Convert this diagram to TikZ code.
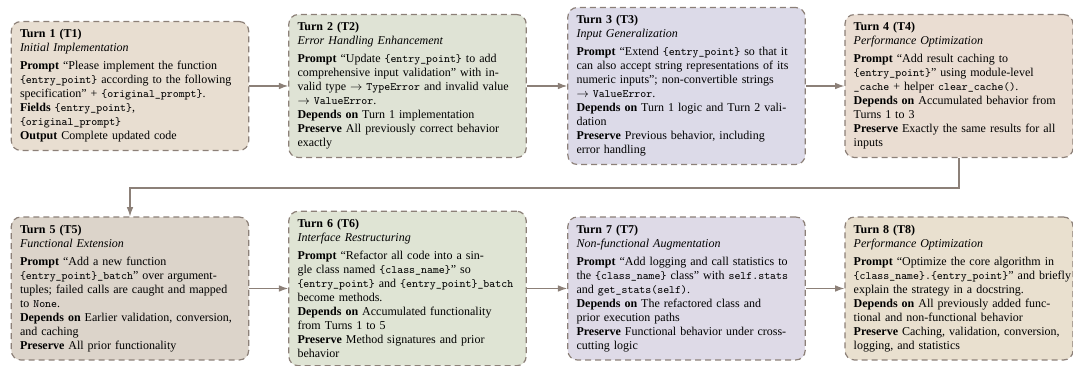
\documentclass[tikz,border=0pt]{standalone}
\usepackage{fontspec}
\setmainfont{Liberation Serif}
\usetikzlibrary{arrows.meta}

\definecolor{boxline}{HTML}{8C8078}
\definecolor{toneA}{HTML}{E8DED1}
\definecolor{toneB}{HTML}{DFE3D5}
\definecolor{toneC}{HTML}{DCDAE8}
\definecolor{toneD}{HTML}{EADDD2}
\definecolor{toneE}{HTML}{DCD4CA}
\definecolor{toneF}{HTML}{DFE4D4}
\definecolor{toneG}{HTML}{DEDAE7}
\definecolor{toneH}{HTML}{E9E0CF}

\newcommand{\tok}[1]{{\ttfamily\fontsize{8.5pt}{10.5pt}\selectfont #1}}
\newcommand{\turnhead}[2]{\textbf{Turn #1 (T#1)}\\\textit{#2}\\[3pt]}

\begin{document}
\begin{tikzpicture}[x=0.75pt,y=-0.75pt,
    turnbox/.style={draw=boxline,dash pattern=on 4.5pt off 3pt,rounded corners=7pt,line width=0.9pt,
        text width=165pt,inner xsep=6.5pt,inner ysep=6pt,align=left,font=\fontsize{9pt}{10.5pt}\selectfont},
    lastcol/.style={text width=158pt},
    flow/.style={-{Latex[length=7pt,width=5pt]},draw=boxline,line width=0.9pt}]
\useasboundingbox (0,0) rectangle (1073,366);

% first row
\node[turnbox,fill=toneA] (t1) at (130,86) {\turnhead{1}{Initial Implementation}
    \textbf{Prompt} ``Please implement the function\\
    \tok{\{entry\_point\}} according to the following\\
    specification'' + \tok{\{original\_prompt\}}.\\
    \textbf{Fields} \tok{\{entry\_point\}},\\
    \tok{\{original\_prompt\}}\\
    \textbf{Output} Complete updated code};
\node[turnbox,fill=toneB] (t2) at (407.5,86) {\turnhead{2}{Error Handling Enhancement}
    \textbf{Prompt} ``Update \tok{\{entry\_point\}} to add\\
    comprehensive input validation'' with in-\\
    valid type $\rightarrow$ \tok{TypeError} and invalid value\\
    $\rightarrow$ \tok{ValueError}.\\
    \textbf{Depends on} Turn 1 implementation\\
    \textbf{Preserve} All previously correct behavior\\
    exactly};
\node[turnbox,fill=toneC] (t3) at (686.5,86) {\turnhead{3}{Input Generalization}
    \textbf{Prompt} ``Extend \tok{\{entry\_point\}} so that it\\
    can also accept string representations of its\\
    numeric inputs''; non-convertible strings\\
    $\rightarrow$ \tok{ValueError}.\\
    \textbf{Depends on} Turn 1 logic and Turn 2 vali-\\
    dation\\
    \textbf{Preserve} Previous behavior, including\\
    error handling};
\node[turnbox,lastcol,fill=toneD] (t4) at (959,86) {\turnhead{4}{Performance Optimization}
    \textbf{Prompt} ``Add result caching to\\
    \tok{\{entry\_point\}}'' using module-level\\
    \tok{\_cache} + helper \tok{clear\_cache()}.\\
    \textbf{Depends on} Accumulated behavior from\\
    Turns 1 to 3\\
    \textbf{Preserve} Exactly the same results for all\\
    inputs};

% second row
\node[turnbox,fill=toneE] (t5) at (130,288.5) {\turnhead{5}{Functional Extension}
    \textbf{Prompt} ``Add a new function\\
    \tok{\{entry\_point\}\_batch}'' over argument-\\
    tuples; failed calls are caught and mapped\\
    to \tok{None}.\\
    \textbf{Depends on} Earlier validation, conversion,\\
    and caching\\
    \textbf{Preserve} All prior functionality};
\node[turnbox,fill=toneF] (t6) at (407.5,288.5) {\turnhead{6}{Interface Restructuring}
    \textbf{Prompt} ``Refactor all code into a sin-\\
    gle class named \tok{\{class\_name\}}'' so\\
    \mbox{\tok{\{entry\_point\}} and \tok{\{entry\_point\}\_batch}}\\
    become methods.\\
    \textbf{Depends on} Accumulated functionality\\
    from Turns 1 to 5\\
    \textbf{Preserve} Method signatures and prior\\
    behavior};
\node[turnbox,fill=toneG] (t7) at (686.5,288.5) {\turnhead{7}{Non-functional Augmentation}
    \textbf{Prompt} ``Add logging and call statistics to\\
    the \tok{\{class\_name\}} class'' with \tok{self.stats}\\
    and \tok{get\_stats(self)}.\\
    \textbf{Depends on} The refactored class and\\
    prior execution paths\\
    \textbf{Preserve} Functional behavior under cross-\\
    cutting logic};
\node[turnbox,lastcol,fill=toneH] (t8) at (959,288.5) {\turnhead{8}{Performance Optimization}
    \textbf{Prompt} ``Optimize the core algorithm in\\
    \mbox{\tok{\{class\_name\}.\{entry\_point\}}'' and briefly}\\
    explain the strategy in a docstring.\\
    \textbf{Depends on} All previously added func-\\
    tional and non-functional behavior\\
    \textbf{Preserve} Caching, validation, conversion,\\
    logging, and statistics};

% connectors
\coordinate (turnback) at (0,188);
\draw[flow] (t1) -- (t2);
\draw[flow] (t2) -- (t3);
\draw[flow] (t3) -- (t4);
\draw[flow] (t4.south) -- (t4.south |- turnback) -| (t5.north);
\draw[flow] (t5) -- (t6);
\draw[flow] (t6) -- (t7);
\draw[flow] (t7) -- (t8);
\end{tikzpicture}
\end{document}
